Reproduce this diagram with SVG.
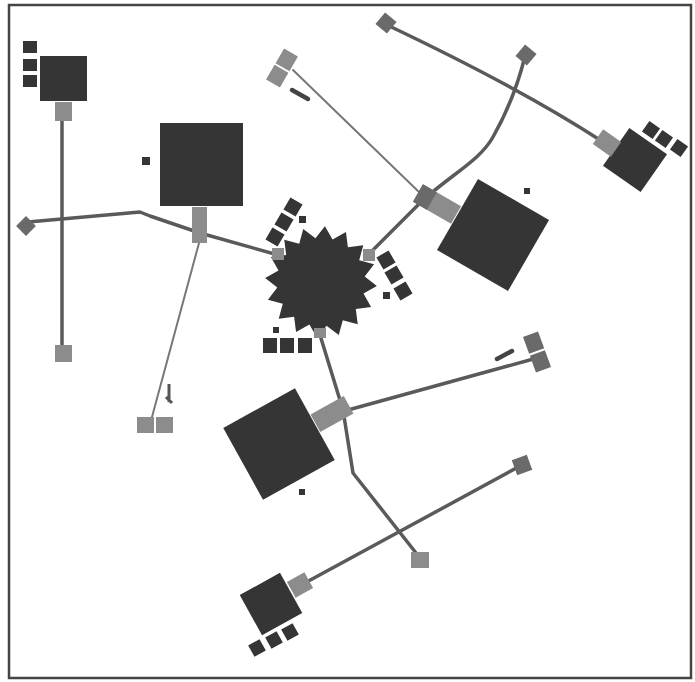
<svg xmlns="http://www.w3.org/2000/svg" width="695" height="682" viewBox="0 0 695 682">
<style>
.d{fill:#353535}
.p{fill:#8c8c8c}
.pd{fill:#6a6a6a}
.c{fill:none;stroke:#5a5a5a;stroke-width:3.5;stroke-linejoin:round;stroke-linecap:round}
.t{fill:none;stroke:#777;stroke-width:2;stroke-linecap:round}
</style>
<rect x="0" y="0" width="695" height="682" fill="#fff"/>
<rect x="9" y="5" width="682" height="673" fill="none" stroke="#444" stroke-width="2.5"/>
<g id="connectors">
<path class="c" d="M62,121 L62,347"/>
<path class="c" d="M28,222 L140,212 L150,216 L200,233 L278,255"/>
<path class="t" d="M199,243 L152,417"/>
<path class="t" d="M293,70 L420,193"/>
<path class="c" d="M370,253 L423,200 C455,172 480,160 493,137 S518,85 525,56"/>
<path class="c" d="M385,24 Q520,88 600,140"/>
<path class="c" d="M320,335 L343,410 L353,473 L420,558"/>
<path class="c" d="M348,410 L537,358"/>
<path class="c" d="M303,584 L522,465"/>
</g>
<g id="n1">
<rect class="d" x="40" y="56" width="47" height="45"/>
<rect class="d" x="23" y="41" width="14" height="12"/>
<rect class="d" x="23" y="59" width="14" height="12"/>
<rect class="d" x="23" y="75" width="14" height="12"/>
<rect class="p" x="55" y="102" width="17" height="19"/>
</g>
<g id="n2">
<rect class="d" x="160" y="123" width="83" height="83"/>
<rect class="d" x="142" y="157" width="8" height="8"/>
<rect class="p" x="192" y="207" width="15" height="36"/>
</g>
<g id="n3">
<path class="d" transform="translate(321,282) rotate(4)" d="M56,0 L43.2,8.6 L51.7,21.4 L36.6,24.4 L39.6,39.6 L24.4,36.6 L21.4,51.7 L8.6,43.2 L0,56 L-8.6,43.2 L-21.4,51.7 L-24.4,36.6 L-39.6,39.6 L-36.6,24.4 L-51.7,21.4 L-43.2,8.6 L-56,0 L-43.2,-8.6 L-51.7,-21.4 L-36.6,-24.4 L-39.6,-39.6 L-24.4,-36.6 L-21.4,-51.7 L-8.6,-43.2 L0,-56 L8.6,-43.2 L21.4,-51.7 L24.4,-36.6 L39.6,-39.6 L36.6,-24.4 L51.7,-21.4 L43.2,-8.6 Z"/>
<g transform="translate(293,207) rotate(30)"><rect class="d" x="-7" y="-7" width="14" height="14"/></g>
<g transform="translate(284,222) rotate(30)"><rect class="d" x="-7" y="-7" width="14" height="14"/></g>
<g transform="translate(275,237) rotate(30)"><rect class="d" x="-7" y="-7" width="14" height="14"/></g>
<rect class="d" x="299" y="216" width="7" height="7"/>
<g transform="translate(386,260) rotate(-30)"><rect class="d" x="-7" y="-7" width="14" height="14"/></g>
<g transform="translate(394,275) rotate(-30)"><rect class="d" x="-7" y="-7" width="14" height="14"/></g>
<g transform="translate(403,291) rotate(-30)"><rect class="d" x="-7" y="-7" width="14" height="14"/></g>
<rect class="d" x="383" y="292" width="7" height="7"/>
<rect class="d" x="263" y="338" width="14" height="15"/>
<rect class="d" x="280" y="338" width="14" height="15"/>
<rect class="d" x="298" y="338" width="14" height="15"/>
<rect class="d" x="273" y="327" width="6" height="6"/>
<rect class="p" x="272" y="248" width="12" height="12"/>
<rect class="p" x="363" y="249" width="12" height="12"/>
<rect class="p" x="314" y="328" width="12" height="10"/>
</g>
<g id="n4">
<g transform="translate(493,235) rotate(30)"><rect class="d" x="-41" y="-41" width="82" height="82"/></g>
<rect class="d" x="524" y="188" width="6" height="6"/>
<g transform="translate(437,204) rotate(30)"><rect class="p" x="-22" y="-10" width="44" height="20"/><rect class="pd" x="-22" y="-10" width="16" height="20"/></g>
</g>
<g id="n5">
<g transform="translate(635,160) rotate(35)"><rect class="d" x="-23" y="-23" width="46" height="46"/></g>
<g transform="translate(651,130) rotate(35)"><rect class="d" x="-6.5" y="-6.5" width="13" height="13"/></g>
<g transform="translate(664,139) rotate(35)"><rect class="d" x="-6.5" y="-6.5" width="13" height="13"/></g>
<g transform="translate(679,148) rotate(35)"><rect class="d" x="-6.5" y="-6.5" width="13" height="13"/></g>
<g transform="translate(607,143) rotate(35)"><rect class="p" x="-11" y="-9" width="22" height="18"/></g>
</g>
<g id="n6">
<g transform="translate(279,444) rotate(-29)"><rect class="d" x="-41" y="-41" width="82" height="82"/></g>
<rect class="d" x="299" y="489" width="6" height="6"/>
<g transform="translate(332,414) rotate(-29)"><rect class="p" x="-19" y="-10" width="38" height="20"/></g>
</g>
<g id="n7">
<g transform="translate(271,604) rotate(-29)"><rect class="d" x="-23" y="-23" width="46" height="46"/></g>
<g transform="translate(257,648) rotate(-29)"><rect class="d" x="-6.5" y="-6.5" width="13" height="13"/></g>
<g transform="translate(274,640) rotate(-29)"><rect class="d" x="-6.5" y="-6.5" width="13" height="13"/></g>
<g transform="translate(290,632) rotate(-29)"><rect class="d" x="-6.5" y="-6.5" width="13" height="13"/></g>
<g transform="translate(300,585) rotate(-29)"><rect class="p" x="-10" y="-9" width="20" height="18"/></g>
</g>
<g id="e1"><rect class="p" x="55" y="345" width="17" height="17"/></g>
<g id="e2"><g transform="translate(26,226) rotate(45)"><rect class="pd" x="-7" y="-7" width="14" height="14"/></g></g>
<g id="e3"><rect class="p" x="137" y="417" width="17" height="16"/><rect class="p" x="156" y="417" width="17" height="16"/><path d="M169,384 L169,402 M166,397 L172,403" stroke="#555" stroke-width="3" fill="none"/></g>
<g id="e4"><g transform="translate(282,68) rotate(30)"><rect class="p" x="-8" y="-18" width="16" height="17"/><rect class="p" x="-8" y="1" width="16" height="17"/></g><path d="M292,90 L308,99" stroke="#444" stroke-width="4.5" stroke-linecap="round"/></g>
<g id="e5"><g transform="translate(386,23) rotate(40)"><rect class="pd" x="-7.5" y="-7.5" width="15" height="15"/></g></g>
<g id="e6"><g transform="translate(526,55) rotate(40)"><rect class="pd" x="-7.5" y="-7.5" width="15" height="15"/></g></g>
<g id="e7"><g transform="translate(537,352) rotate(-20)"><rect class="pd" x="-8" y="-19" width="16" height="18"/><rect class="pd" x="-8" y="1" width="16" height="18"/></g><path d="M497,359 L512,351" stroke="#444" stroke-width="4.5" stroke-linecap="round"/></g>
<g id="e8"><rect class="p" x="411" y="552" width="18" height="16"/></g>
<g id="e9"><g transform="translate(522,465) rotate(-20)"><rect class="pd" x="-8" y="-8" width="16" height="16"/></g></g>
</svg>
